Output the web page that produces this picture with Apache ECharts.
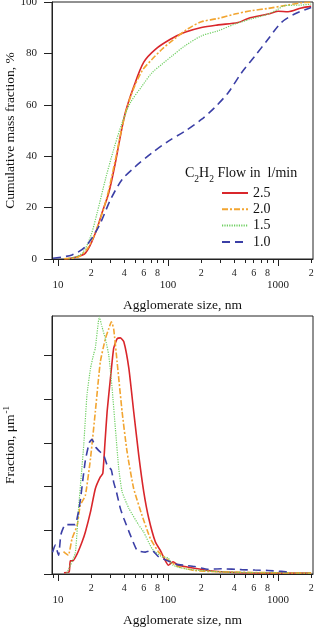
<!DOCTYPE html>
<html>
<head>
<meta charset="utf-8">
<script src="https://cdn.jsdelivr.net/npm/echarts@6/dist/echarts.min.js"></script>
<style>
html, body { margin: 0; padding: 0; background: #fff; }
#chart { width: 318px; height: 628px; }
</style>
</head>
<body>
<div id="chart"></div>
<script>
// flow rates (l/min) used as series names
let flows = ['2.5', '2.0', '1.5', '1.0'];

// cumulative mass fraction (%) vs agglomerate size (nm)
let cumSize25 = [11.5, 13.4, 17.7, 21.8, 25.1, 28.9, 33.2, 36.8, 40.9, 48.7, 60.1, 76.7, 105, 142, 201, 285, 433, 534, 811, 1000, 1233, 1630, 2000];
let cum25 = [0, 0.4, 2.3, 10, 18, 25.8, 37.5, 47.7, 57, 67, 76.6, 81.6, 85.5, 88.2, 90.1, 91.1, 92, 93.6, 95.3, 96.4, 96.2, 97.7, 98.3];
let cumSize20 = [11.3, 15.4, 19.0, 23.4, 27.9, 33.2, 39.6, 47, 58, 71.5, 88, 108.6, 152, 201, 285, 404, 571, 811, 1150, 1630, 2000];
let cum20 = [0.1, 0.9, 4.8, 13.9, 24.3, 38.7, 54.3, 64.7, 73.2, 77.7, 81.6, 84.9, 89.6, 92.3, 93.6, 95.3, 96.6, 97.5, 98.6, 99.7, 99.9];
let cumSize15 = [12.5, 16.5, 19.7, 22.6, 26.9, 32, 38.2, 45.4, 58, 71.5, 88, 108.6, 142, 201, 285, 404, 571, 811, 1000, 1150, 1630, 2000];
let cum15 = [0.1, 2.2, 8.7, 17.8, 30.9, 42.6, 53, 60.8, 67.3, 72.5, 75.8, 79, 82.9, 86.8, 88.8, 91.4, 93.4, 95.3, 97.2, 98.6, 98.8, 99.2];
let cumSize10 = [9.0, 13.4, 17.7, 23.4, 29.9, 38.2, 50.5, 71.5, 100, 142, 201, 265, 352, 466, 617, 811, 1070, 1415, 2000];
let cum10 = [0.3, 1.6, 4.8, 12.6, 23, 30.9, 36, 41.3, 45.8, 49.7, 54.3, 58.9, 64.7, 72.5, 79, 85.5, 92, 95.3, 97.9];

// size distribution (1/um) vs agglomerate size (nm)
let fracSize25 = [11.3, 12.6, 12.9, 13.6, 14.9, 16.5, 17.7, 19.7, 21.8, 24.2, 25.5, 26.6, 27.9, 29.9, 32, 34.4, 36.8, 39.6, 44, 48.7, 54.1, 60.1, 66.8, 76.7, 84.5, 93.9, 100.6, 111, 123, 142, 174, 231, 306, 466, 811, 2000];
let frac25 = [0.03, 0.05, 0.3, 0.3, 0.46, 0.73, 0.96, 1.42, 1.95, 2.22, 2.3, 2.95, 3.71, 4.47, 5.16, 5.38, 5.40, 5.31, 4.70, 3.71, 2.72, 1.88, 1.27, 0.73, 0.55, 0.32, 0.2, 0.28, 0.2, 0.17, 0.13, 0.08, 0.05, 0.03, 0.02, 0.02];
let fracSize20 = [11.2, 11.7, 12.4, 13.4, 14.9, 15.9, 17.7, 19.7, 21.8, 24.2, 26.9, 28.9, 30.5, 32, 34.4, 38.2, 42.4, 48.7, 58, 69, 82.3, 101, 123, 174, 285, 811, 2000];
let frac20 = [0.51, 0.47, 0.43, 0.81, 1.11, 1.57, 1.8, 2.64, 3.71, 4.85, 5.38, 5.61, 5.77, 5.61, 4.85, 3.71, 2.79, 1.95, 1.34, 0.81, 0.5, 0.31, 0.17, 0.08, 0.05, 0.03, 0.02];
let fracSize15 = [12.0, 14.3, 15.3, 16.4, 17.1, 18.3, 19.7, 21.1, 21.8, 23.7, 25.1, 26.9, 28.9, 31, 33.2, 35.6, 38.2, 44, 54.1, 60, 71.5, 88, 100, 111, 142, 200, 300, 600, 2000];
let frac15 = [0.02, 0.47, 1.46, 2.38, 2.95, 4.09, 4.70, 5.04, 5.16, 5.88, 5.65, 5.38, 5.0, 4.24, 3.32, 2.41, 1.88, 1.5, 1.12, 0.96, 0.58, 0.39, 0.37, 0.2, 0.12, 0.08, 0.05, 0.03, 0.02];
let fracSize10 = [8.9, 9.4, 10.1, 10.6, 11.6, 12.9, 14.3, 15.3, 16.0, 16.5, 17.7, 19.2, 20.3, 22.0, 24.2, 26.0, 27.9, 30.5, 32, 33.9, 36.8, 39.6, 45.4, 52.3, 62.2, 71.5, 82.3, 97.8, 120, 142, 174, 231, 306, 466, 617, 811, 1070, 1300];
let frac10 = [0.50, 0.66, 0.43, 0.90, 1.13, 1.13, 1.13, 1.42, 1.72, 2.0, 2.6, 3.0, 3.08, 2.9, 2.79, 2.72, 2.49, 2.38, 2.1, 1.88, 1.5, 1.27, 0.89, 0.54, 0.50, 0.54, 0.39, 0.31, 0.22, 0.2, 0.17, 0.11, 0.12, 0.1, 0.09, 0.08, 0.06, 0.04];

// x axis ticks (nm)
let minorTicks = [9, 20, 30, 40, 50, 60, 70, 80, 90, 200, 300, 400, 500, 600, 700, 800, 900, 2000];
let digitLabels = [20, 40, 60, 80, 200, 400, 600, 800, 2000];
let decadeTicks = [10, 100, 1000];
let cumTicks = [0, 20, 40, 60, 80, 100];
let fracTicks = [0, 1, 2, 3, 4, 5];

let font = 'Liberation Serif';
let xMin = Math.log10(8.8), xMax = 3.318;
let lg = v => Math.log10(v);
function pairs(xs, ys) { return xs.map((x, i) => [lg(x), ys[i]]); }

let styles = [
    { color: '#d9262b', width: 1.6, type: 'solid' },
    { color: '#f2a531', width: 1.6, type: [6, 2, 2, 2] },
    { color: '#6fcf62', width: 1.2, type: [1.2, 1.2] },
    { color: '#3b3fa6', width: 1.6, type: [8, 5] }
];

function xAxes(g) {
    let base = { type: 'value', gridIndex: g, min: xMin, max: xMax, position: 'bottom', splitLine: { show: false } };
    return [
        Object.assign({}, base, {
            name: 'Agglomerate size, nm', nameLocation: 'middle', nameGap: 39, nameMoveOverlap: false,
            nameTextStyle: { fontFamily: font, fontSize: 13.5, color: '#111' },
            axisLine: { show: true, lineStyle: { color: '#222', width: 1 } },
            axisTick: { show: true, length: 4, customValues: minorTicks.map(lg), lineStyle: { color: '#222' } },
            axisLabel: { customValues: digitLabels.map(lg), margin: 9, fontFamily: font, fontSize: 10, color: '#222',
                formatter: v => String(Math.round(Math.pow(10, v))).charAt(0) }
        }),
        Object.assign({}, base, {
            axisLine: { show: false },
            axisTick: { show: true, length: 7, customValues: decadeTicks.map(lg), lineStyle: { color: '#222' } },
            axisLabel: { customValues: decadeTicks.map(lg), margin: 21, fontFamily: font, fontSize: 11, color: '#222',
                formatter: v => String(Math.round(Math.pow(10, v))) }
        })
    ];
}

function series(list, g) {
    return list.map((s, i) => ({
        name: flows[i], type: 'line', xAxisIndex: g * 2, yAxisIndex: g,
        data: s, symbol: 'none', smooth: g === 0 ? 0.3 : 0.15,
        lineStyle: styles[i], itemStyle: { color: styles[i].color }
    }));
}

let chart = echarts.init(document.getElementById('chart'));
chart.setOption({
    animation: false,
    textStyle: { fontFamily: font },
    title: {
        text: '{t|C}{s|2}{t|H}{s|2}{t| Flow in  l/min}',
        left: 185, top: 166, padding: 0,
        textStyle: { fontWeight: 'normal', rich: {
            t: { fontFamily: font, fontSize: 14, fontWeight: 'normal', color: '#111', lineHeight: 15, verticalAlign: 'top' },
            s: { fontFamily: font, fontSize: 9.5, fontWeight: 'normal', color: '#111', lineHeight: 9, verticalAlign: 'top', padding: [8, 0, 0, 0] }
        } }
    },
    legend: {
        data: flows, orient: 'vertical', left: 221, top: 186, padding: 0,
        itemWidth: 26, itemHeight: 10, itemGap: 2.3,
        itemStyle: { opacity: 0 },
        textStyle: { fontFamily: font, fontSize: 14, color: '#111', lineHeight: 14 }
    },
    grid: [
        { left: 52, right: 5, top: 2, height: 257, outerBoundsMode: 'none', containLabel: false,
          show: true, borderColor: '#222', borderWidth: 1 },
        { left: 52, right: 5, top: 316, height: 258, outerBoundsMode: 'none', containLabel: false,
          show: true, borderColor: '#222', borderWidth: 1 }
    ],
    xAxis: xAxes(0).concat(xAxes(1)),
    yAxis: [
        { type: 'value', gridIndex: 0, min: 0, max: 100, interval: 20,
          name: 'Cumulative mass fraction, %', nameLocation: 'middle', nameGap: 35, nameMoveOverlap: false,
          nameTextStyle: { fontFamily: font, fontSize: 13.5, color: '#111' },
          axisLine: { show: true, lineStyle: { color: '#222' } },
          axisTick: { show: true, length: 8, customValues: cumTicks, lineStyle: { color: '#222' } },
          axisLabel: { customValues: cumTicks, margin: 15, fontFamily: font, fontSize: 11, color: '#222' },
          splitLine: { show: false } },
        { type: 'value', gridIndex: 1, min: 0, max: 5.9,
          name: '{n|Fraction, μm}{p|-1}', nameLocation: 'middle', nameGap: 35, nameMoveOverlap: false,
          nameTextStyle: { rich: {
              n: { fontFamily: font, fontSize: 13.5, color: '#111', lineHeight: 15, verticalAlign: 'bottom' },
              p: { fontFamily: font, fontSize: 9, color: '#111', lineHeight: 9, verticalAlign: 'bottom', padding: [0, 0, 6, 1] }
          } },
          axisLine: { show: true, lineStyle: { color: '#222' } },
          axisTick: { show: true, length: 8, customValues: fracTicks, lineStyle: { color: '#222' } },
          axisLabel: { show: false },
          splitLine: { show: false } }
    ],
    series: series([pairs(cumSize25, cum25), pairs(cumSize20, cum20), pairs(cumSize15, cum15), pairs(cumSize10, cum10)], 0)
        .concat(series([pairs(fracSize25, frac25), pairs(fracSize20, frac20), pairs(fracSize15, frac15), pairs(fracSize10, frac10)], 1))
});
</script>
</body>
</html>
